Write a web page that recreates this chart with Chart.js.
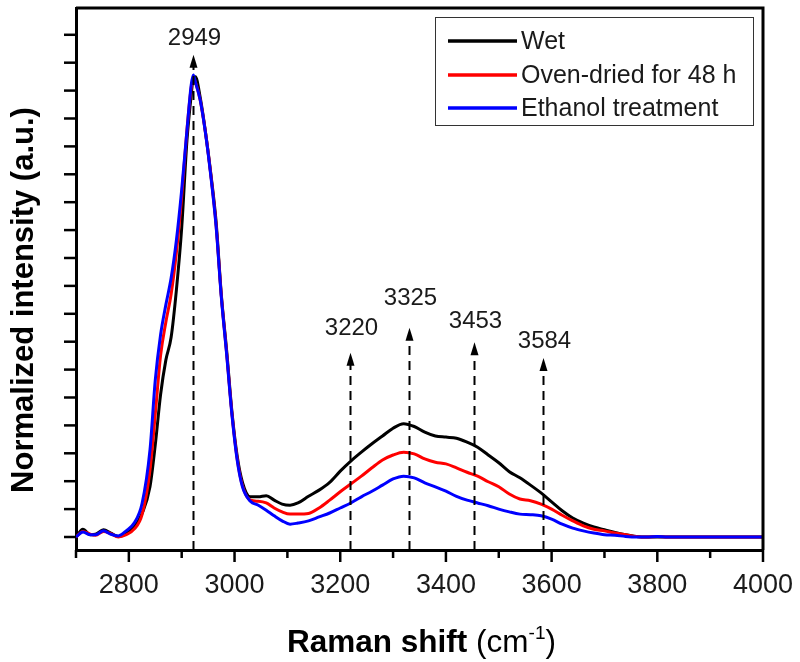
<!DOCTYPE html>
<html><head><meta charset="utf-8">
<script src="https://cdn.jsdelivr.net/npm/chart.js@4.4.1/dist/chart.umd.min.js"></script>
<style>html,body{margin:0;padding:0;background:#fff}#wrap{width:800px;height:662px}</style>
</head><body><div id="wrap"><canvas id="c" width="800" height="662"></canvas></div>
<script>
// Raman shift (cm-1)
const wavenumbers = [2700,2713,2727,2737,2752,2766,2780,2795,2810,2825,2840,2850,2860,2870,2880,2890,2900,2910,2918,2922,2926,2935,2945,2955,2965,2975,2985,2995,3005,3015,3030,3045,3060,3075,3090,3105,3120,3140,3160,3180,3200,3220,3240,3260,3280,3300,3320,3340,3360,3380,3400,3420,3440,3460,3480,3500,3520,3540,3560,3580,3600,3620,3640,3660,3680,3700,3720,3740,3760,3780,3800,3820,3850,3900,3950,4000];
const wet = [0,0.14,0.04,0.05,0.13,0.07,0.01,0.06,0.18,0.42,0.90,1.65,2.55,3.17,3.58,4.43,5.54,7.11,7.92,8.23,8.25,7.88,7.26,6.52,5.66,4.34,3.35,2.25,1.45,0.98,0.72,0.72,0.74,0.66,0.59,0.57,0.61,0.73,0.84,0.98,1.18,1.36,1.52,1.67,1.81,1.95,2.03,1.98,1.88,1.81,1.79,1.77,1.70,1.61,1.47,1.33,1.17,1.06,0.93,0.79,0.63,0.47,0.34,0.25,0.18,0.13,0.08,0.04,0.01,0,0,0,0,0,0,0];
const ovenDried = [0,0.10,0.05,0.03,0.10,0.06,0,0.04,0.14,0.40,1.20,2.20,3.25,3.85,4.35,5.10,6.10,7.30,8.05,8.22,8.15,7.83,7.25,6.50,5.60,4.32,3.30,2.22,1.40,0.92,0.66,0.64,0.61,0.52,0.45,0.41,0.41,0.42,0.52,0.66,0.81,0.95,1.09,1.24,1.38,1.47,1.52,1.49,1.40,1.34,1.31,1.24,1.16,1.09,0.99,0.90,0.77,0.68,0.65,0.59,0.50,0.39,0.29,0.20,0.14,0.11,0.07,0.04,0.01,0,0.01,0,0,0,0,0];
const ethanol = [0,0.09,0.04,0.04,0.11,0.05,0.02,0.11,0.25,0.60,1.56,2.81,3.62,4.16,4.64,5.32,6.22,7.29,8.10,8.28,8.15,7.83,7.24,6.48,5.58,4.30,3.28,2.20,1.38,0.90,0.64,0.57,0.48,0.38,0.29,0.23,0.25,0.29,0.36,0.43,0.52,0.61,0.72,0.82,0.93,1.04,1.09,1.06,0.97,0.90,0.82,0.73,0.66,0.61,0.56,0.50,0.45,0.41,0.40,0.38,0.32,0.23,0.16,0.11,0.07,0.04,0.03,0.01,0,0,0.01,0,0,0,0,0];

const seriesLabels = ['Wet','Oven-dried for 48 h','Ethanol treatment'];
const seriesColors = ['#000000','#ff0000','#0000ff'];

const xTickValues = [2800,3000,3200,3400,3600,3800,4000];
const xTickLabels = ['2800','3000','3200','3400','3600','3800','4000'];
const xMinorTickValues = [2700,2900,3100,3300,3500,3700,3900];
const yTickValues = [0,0.5,1,1.5,2,2.5,3,3.5,4,4.5,5,5.5,6,6.5,7,7.5,8,8.5,9];

// peak annotations
const peakPositions = [2922,3219,3330,3453,3583];
const peakLabels = ['2949','3220','3325','3453','3584'];
const arrowTips = [8.64,3.30,3.75,3.49,3.21];
const labelLevels = [8.82,3.62,4.16,3.75,3.39];

const FONT = '"Liberation Sans", Arial, sans-serif';

function pts(ys){ return wavenumbers.map((x,i)=>({x:x,y:ys[i]})); }

const decor = {
  id:'decor',
  afterDatasetsDraw(chart){
    const ctx = chart.ctx, xs = chart.scales.x, ys = chart.scales.y, a = chart.chartArea;
    ctx.save();
    peakPositions.forEach((p,i)=>{
      const px = Math.round(xs.getPixelForValue(p)) + 0.5;
      const tip = ys.getPixelForValue(arrowTips[i]);
      ctx.strokeStyle = '#000'; ctx.lineWidth = 2; ctx.setLineDash([9,6]);
      ctx.beginPath(); ctx.moveTo(px, a.bottom); ctx.lineTo(px, tip + 12); ctx.stroke();
      ctx.setLineDash([]);
      ctx.fillStyle = '#000';
      ctx.beginPath(); ctx.moveTo(px, tip); ctx.lineTo(px - 4, tip + 13); ctx.lineTo(px + 4, tip + 13); ctx.closePath(); ctx.fill();
      ctx.font = '24px ' + FONT; ctx.textAlign = 'center'; ctx.textBaseline = 'alphabetic';
      ctx.fillStyle = '#1a1a1a';
      ctx.fillText(peakLabels[i], px + 1, ys.getPixelForValue(labelLevels[i]));
    });
    ctx.restore();
  },
  afterDraw(chart){
    const ctx = chart.ctx, xs = chart.scales.x, ys = chart.scales.y, a = chart.chartArea;
    ctx.save();
    ctx.strokeStyle = '#000';
    // top and right frame
    ctx.lineWidth = 3;
    ctx.beginPath(); ctx.moveTo(a.left, a.top); ctx.lineTo(a.right, a.top); ctx.lineTo(a.right, a.bottom); ctx.stroke();
    // x ticks
    ctx.lineWidth = 2.5;
    xTickValues.forEach(v=>{ const px = xs.getPixelForValue(v); ctx.beginPath(); ctx.moveTo(px, a.bottom); ctx.lineTo(px, a.bottom + 12); ctx.stroke(); });
    xMinorTickValues.forEach(v=>{ const px = xs.getPixelForValue(v); ctx.beginPath(); ctx.moveTo(px, a.bottom); ctx.lineTo(px, a.bottom + 8); ctx.stroke(); });
    // y ticks
    yTickValues.forEach(v=>{ const py = ys.getPixelForValue(v); ctx.beginPath(); ctx.moveTo(a.left, py); ctx.lineTo(a.left - 12, py); ctx.stroke(); });
    // legend
    ctx.lineWidth = 1; ctx.strokeStyle = '#333';
    ctx.strokeRect(435.5, 17.5, 318, 108);
    const rowY = [41, 75, 108];
    chart.data.datasets.forEach((ds,i)=>{
      ctx.strokeStyle = ds.borderColor; ctx.lineWidth = 3.5;
      ctx.beginPath(); ctx.moveTo(448, rowY[i]); ctx.lineTo(517, rowY[i]); ctx.stroke();
      ctx.fillStyle = '#1a1a1a'; ctx.font = '25px ' + FONT; ctx.textAlign = 'left'; ctx.textBaseline = 'middle';
      ctx.fillText(ds.label, 521, rowY[i] + 1);
    });
    // y title
    ctx.save();
    ctx.translate(33, 300); ctx.rotate(-Math.PI/2);
    ctx.fillStyle = '#000'; ctx.font = 'bold 31px ' + FONT; ctx.textAlign = 'center'; ctx.textBaseline = 'alphabetic';
    ctx.fillText('Normalized intensity (a.u.)', 0, 0);
    ctx.restore();
    // x title (mixed weights, superscript)
    const parts = [
      {t:'Raman shift ', f:'bold 31.5px ' + FONT, dy:0},
      {t:'(cm', f:'31.5px ' + FONT, dy:0},
      {t:'-1', f:'19px ' + FONT, dy:-13},
      {t:')', f:'31.5px ' + FONT, dy:0}
    ];
    let total = 0;
    parts.forEach(p=>{ ctx.font = p.f; p.w = ctx.measureText(p.t).width; total += p.w; });
    let x = (a.left + a.right)/2 - total/2 + 2;
    ctx.fillStyle = '#000'; ctx.textAlign = 'left'; ctx.textBaseline = 'alphabetic';
    parts.forEach(p=>{ ctx.font = p.f; ctx.fillText(p.t, x, 652 + p.dy); x += p.w; });
    ctx.restore();
  }
};

new Chart(document.getElementById('c'), {
  type:'line',
  data:{
    datasets:[
      {label:seriesLabels[0], data:pts(wet), borderColor:seriesColors[0], order:3},
      {label:seriesLabels[1], data:pts(ovenDried), borderColor:seriesColors[1], order:2},
      {label:seriesLabels[2], data:pts(ethanol), borderColor:seriesColors[2], order:1}
    ]
  },
  options:{
    responsive:false, animation:false, devicePixelRatio:1,
    layout:{padding:{left:0, top:8, right:37, bottom:0}},
    plugins:{legend:{display:false}, tooltip:{enabled:false}},
    elements:{point:{radius:0}, line:{borderWidth:3, cubicInterpolationMode:'monotone', fill:false}},
    scales:{
      x:{type:'linear', min:2700, max:4000, position:'bottom',
        grid:{display:false, drawTicks:false},
        border:{display:true, color:'#000', width:3},
        ticks:{padding:19, autoSkip:false, maxRotation:0, color:'#1a1a1a', font:{family:FONT, size:27},
          callback:(v)=>{ const i = xTickValues.indexOf(v); return i >= 0 ? xTickLabels[i] : ''; }},
        afterBuildTicks: s => { s.ticks = xTickValues.map(v=>({value:v})); },
        afterFit: s => { s.height = 112; s.paddingLeft = 0; s.paddingRight = 0; }
      },
      y:{type:'linear', min:-0.233, max:9.48,
        grid:{display:false, drawTicks:false},
        border:{display:true, color:'#000', width:3},
        ticks:{display:false},
        afterFit: s => { s.width = 76; s.paddingTop = 0; s.paddingBottom = 0; }
      }
    }
  },
  plugins:[decor]
});
</script>
</body></html>
